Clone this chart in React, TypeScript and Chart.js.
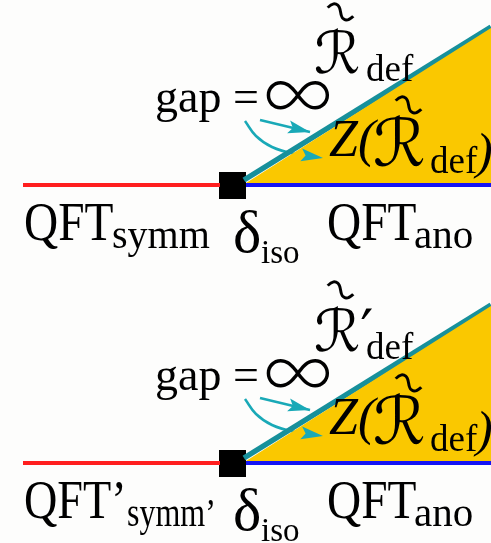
import React, { useEffect, useRef } from "react";
import { Chart, registerables } from "chart.js";

Chart.register(...registerables);

// Vertical offsets of the two panels (data units, y grows downward)
const panelOffsets = [0, 278];

// Base-line segments of one panel: [x0, y0, x1, y1]
const redSegment = [23, 185, 220, 185];
const blueSegment = [246, 185, 491, 185];
const tealSegment = [244, 180, 491, 27];
const wedge = [
  [246, 183],
  [491, 28],
  [491, 183],
];
// Square isolated point (corners)
const isoSquare = [
  [219, 172],
  [246, 172],
  [246, 199],
  [219, 199],
];

// Arrows (polyline points, last point is the tip)
const straightArrow = [
  [260, 120],
  [310, 132],
];
const curvedArrow = [
  [245, 121],
  [256, 136],
  [272, 147],
  [295, 154],
  [323, 158],
];

// Text labels for each panel: [panel1 text, panel2 text]
const labelTexts = {
  qftSymm: ["QFT", "QFT\u2019"],
  symmSub: ["symm", "symm\u2019"],
  delta: ["\u03B4", "\u03B4"],
  isoSub: ["iso", "iso"],
  qftAno: ["QFT", "QFT"],
  anoSub: ["ano", "ano"],
  gap: ["gap =", "gap ="],
  infinity: ["\u221E", "\u221E"],
  rDef: ["\u211B", "\u211B\u2032"],
  defSub: ["def", "def"],
  zOpen: ["Z(", "Z("],
  rInner: ["\u211B", "\u211B"],
  defInner: ["def", "def"],
  close: [")", ")"],
  tilde: ["~", "~"],
};

// Layout of the labels (x, baseline y, font px, style, horizontal scale)
type Lay = {
  key: keyof typeof labelTexts;
  x: number;
  y: number;
  size: number;
  style?: string;
  fam?: string;
  sx?: number;
  sx2?: number;
  rot?: number;
  x2?: number;
  center?: boolean;
};
const layout: Lay[] = [
  { key: "qftSymm", x: 24, y: 240, size: 55, sx: 0.86, sx2: 0.84 },
  { key: "symmSub", x: 112, y: 248, size: 40, sx: 1.0, x2: 127, sx2: 0.8 },
  { key: "delta", x: 233, y: 252, size: 60 },
  { key: "isoSub", x: 261, y: 263, size: 33 },
  { key: "qftAno", x: 327, y: 240, size: 55, sx: 0.86 },
  { key: "anoSub", x: 414, y: 248, size: 41 },
  { key: "gap", x: 155, y: 112, size: 46 },
  { key: "infinity", x: 262, y: 120, size: 80, fam: "thin" },
  { key: "rDef", x: 314, y: 73, size: 58, fam: "script" },
  { key: "tilde", x: 338, y: 15, size: 58, rot: 40, center: true },
  { key: "defSub", x: 366, y: 81, size: 37 },
  { key: "zOpen", x: 329, y: 156, size: 52, style: "italic" },
  { key: "rInner", x: 373, y: 166, size: 66, fam: "script" },
  { key: "tilde", x: 406, y: 108, size: 58, rot: 40, center: true },
  { key: "defInner", x: 430, y: 173, size: 37 },
  { key: "close", x: 476, y: 168, size: 50, style: "italic" },
];

const COLORS = {
  red: "#ff1e1e",
  blue: "#1414f5",
  teal: "#17909b",
  yellow: "#fac800",
  arrow: "#19a9b7",
  black: "#000000",
};

function seg(s: number[], dy: number) {
  return [
    { x: s[0], y: s[1] + dy },
    { x: s[2], y: s[3] + dy },
  ];
}

export default function App() {
  const ref = useRef<HTMLCanvasElement | null>(null);
  useEffect(() => {
    const canvas = ref.current;
    if (!canvas) return;
    const datasets: any[] = [];
    panelOffsets.forEach((dy) => {
      datasets.push({
        data: wedge.map((p) => ({ x: p[0], y: p[1] + dy })),
        showLine: true,
        fill: "shape",
        backgroundColor: COLORS.yellow,
        borderWidth: 0,
        pointRadius: 0,
        tension: 0,
        clip: false,
      });
      datasets.push({ data: seg(redSegment, dy), showLine: true, borderColor: COLORS.red, borderWidth: 4, pointRadius: 0, clip: false });
      datasets.push({ data: seg(blueSegment, dy), showLine: true, borderColor: COLORS.blue, borderWidth: 4, pointRadius: 0, clip: false });
      datasets.push({ data: seg(tealSegment, dy), showLine: true, borderColor: COLORS.teal, borderWidth: 5.5, pointRadius: 0, clip: false });
      datasets.push({
        data: straightArrow.map((p) => ({ x: p[0], y: p[1] + dy })),
        showLine: true,
        borderColor: COLORS.arrow,
        borderWidth: 2.5,
        pointRadius: 0,
        clip: false,
        arrow: true,
      });
      datasets.push({
        data: curvedArrow.map((p) => ({ x: p[0], y: p[1] + dy })),
        showLine: true,
        borderColor: COLORS.arrow,
        borderWidth: 2.5,
        pointRadius: 0,
        tension: 0.4,
        clip: false,
        arrow: true,
      });
      datasets.push({
        data: isoSquare.map((p) => ({ x: p[0], y: p[1] + dy })),
        showLine: true,
        fill: "shape",
        backgroundColor: COLORS.black,
        borderColor: COLORS.black,
        borderWidth: 0,
        pointRadius: 0,
        tension: 0,
        clip: false,
      });
    });

    const textPlugin = {
      id: "texts",
      beforeDraw(chart: any) {
        const c = chart.ctx;
        c.save();
        c.fillStyle = "#fdfdfc";
        c.fillRect(0, 0, chart.width, chart.height);
        c.restore();
      },
      afterDatasetsDraw(chart: any) {
        const c = chart.ctx;
        const xs = chart.scales.x;
        const ys = chart.scales.y;
        // arrow heads
        chart.data.datasets.forEach((ds: any) => {
          if (!ds.arrow) return;
          const n = ds.data.length;
          const tip = ds.data[n - 1];
          const prev = ds.data[n - 2];
          const tx = xs.getPixelForValue(tip.x);
          const ty = ys.getPixelForValue(tip.y);
          const px = xs.getPixelForValue(prev.x);
          const py = ys.getPixelForValue(prev.y);
          const ang = Math.atan2(ty - py, tx - px);
          const len = 22;
          const half = 6.5;
          c.save();
          c.translate(tx, ty);
          c.rotate(ang);
          c.beginPath();
          c.moveTo(0, 0);
          c.lineTo(-len, -half);
          c.lineTo(-len * 0.8, 0);
          c.lineTo(-len, half);
          c.closePath();
          c.fillStyle = ds.borderColor;
          c.fill();
          c.restore();
        });
        panelOffsets.forEach((dy, pi) => {
          layout.forEach((l) => {
            const text = labelTexts[l.key][pi];
            const x = xs.getPixelForValue(pi === 1 && l.x2 !== undefined ? l.x2 : l.x);
            const y = ys.getPixelForValue(l.y + dy);
            let fam = '"Liberation Serif", "DejaVu Serif", serif';
            let weight = "normal";
            if (l.fam === "script") fam = '"DejaVu Serif", "DejaVu Sans", "Liberation Serif", serif';
            if (l.fam === "thin") {
              fam = 'Inter, "Noto Sans", "DejaVu Sans", sans-serif';
              weight = "200";
            }
            const sx = pi === 1 && l.sx2 !== undefined ? l.sx2 : l.sx || 1;
            c.save();
            c.fillStyle = "#000";
            c.textBaseline = l.center ? "middle" : "alphabetic";
            c.textAlign = l.center ? "center" : "left";
            c.font = `${l.style || "normal"} ${weight} ${l.size}px ${fam}`;
            c.translate(x, y);
            if (l.rot) c.rotate((l.rot * Math.PI) / 180);
            c.scale(sx, 1);
            c.fillText(text, 0, 0);
            c.restore();
          });
        });
      },
    };

    const chart = new Chart(canvas, {
      type: "scatter",
      data: { datasets },
      options: {
        animation: false,
        responsive: false,
        devicePixelRatio: 1,
        layout: { padding: 0, autoPadding: false } as any,
        plugins: { legend: { display: false }, tooltip: { enabled: false } },
        scales: {
          x: { type: "linear", min: 0, max: 491, display: false },
          y: { type: "linear", min: 0, max: 543, reverse: true, display: false },
        },
      },
      plugins: [textPlugin],
    });
    return () => chart.destroy();
  }, []);
  return (
    <div style={{ position: "fixed", left: 0, top: 0, width: 491, height: 543, background: "#fdfdfc" }}>
      <canvas ref={ref} width={491} height={543} style={{ display: "block" }} />
    </div>
  );
}
